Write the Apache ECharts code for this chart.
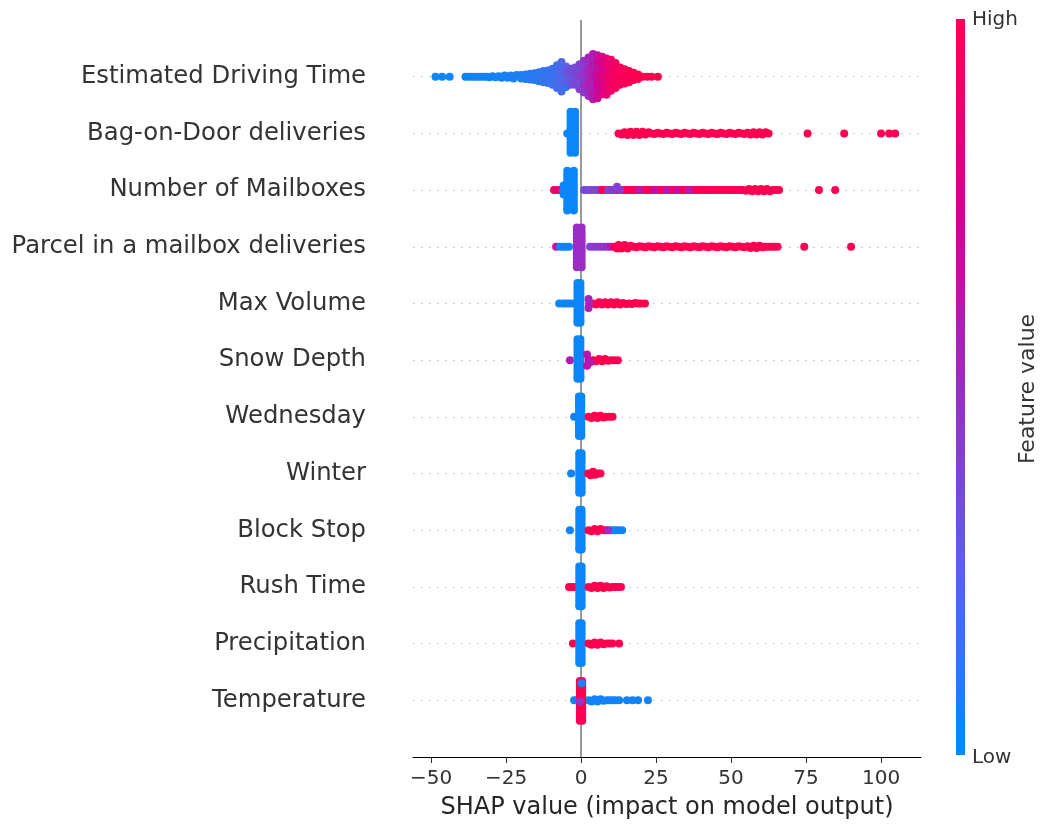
<!DOCTYPE html>
<html lang="en">
<head>
<meta charset="UTF-8">
<script src="https://cdn.jsdelivr.net/npm/echarts@6/dist/echarts.min.js"></script>
<title>SHAP summary</title>
<style>
  html, body { margin: 0; padding: 0; background: #fff; }
  #chart { width: 1046px; height: 825px; }
</style>
</head>
<body>
<div id="chart"></div>
<script>
const features = [
  "Estimated Driving Time", "Bag-on-Door deliveries", "Number of Mailboxes",
  "Parcel in a mailbox deliveries", "Max Volume", "Snow Depth", "Wednesday",
  "Winter", "Block Stop", "Rush Time", "Precipitation", "Temperature"
];
const xTicks = [-50, -25, 0, 25, 50, 75, 100];

// each point: [shap value, spread inside its row, feature value 0..1]
const drivingTime = [
  [-48.5,0,0.02],[-46.3,0,0.03],[-43.8,0,0.02],
  [-38.5,0,0.04],[-37.5,0,0.03],[-36.5,0,0.05],[-35.5,0,0.04],[-34.5,0,0.05],[-33.5,0,0.04],[-32.5,0,0.06],[-31.5,0,0.05],
  [-30.5,0.01,0.05],[-29.5,-0.01,0.06],[-28.5,0.01,0.05],[-27.5,-0.01,0.07],[-26.5,0.02,0.06],[-25.5,-0.02,0.07],
  [-24.5,0.02,0.06],[-23.5,-0.02,0.08],[-22.5,0.03,0.07],[-21.5,-0.03,0.08],
  [-20,-0.03,0.08],[-20,0.03,0.09],[-18.5,-0.04,0.1],[-18.5,0.04,0.09],[-17,-0.05,0.1],[-17,0.05,0.11],
  [-15.5,-0.06,0.11],[-15.5,0,0.1],[-15.5,0.06,0.12],[-14,-0.08,0.12],[-14,0,0.13],[-14,0.08,0.12],
  [-12.5,-0.1,0.13],[-12.5,0,0.14],[-12.5,0.1,0.15],[-11,-0.11,0.15],[-11,0,0.14],[-11,0.11,0.16],
  [-9.5,-0.14,0.16],[-9.5,-0.05,0.15],[-9.5,0.05,0.17],[-9.5,0.14,0.16],
  [-8,-0.2,0.18],[-8,-0.1,0.2],[-8,0,0.17],[-8,0.1,0.19],[-8,0.2,0.18],
  [-6.5,-0.26,0.22],[-6.5,-0.15,0.2],[-6.5,-0.05,0.24],[-6.5,0.05,0.21],[-6.5,0.15,0.23],[-6.5,0.26,0.2],
  [-5,-0.18,0.26],[-5,-0.08,0.3],[-5,0.02,0.25],[-5,0.12,0.28],[-5,0.18,0.12],
  [-3.5,-0.14,0.32],[-3.5,-0.05,0.35],[-3.5,0.05,0.3],[-3.5,0.14,0.34],
  [-2,-0.16,0.36],[-2,-0.06,0.38],[-2,0.04,0.34],[-2,0.14,0.37],
  [-0.5,-0.22,0.4],[-0.5,-0.11,0.38],[-0.5,0,0.42],[-0.5,0.11,0.36],[-0.5,0.22,0.4],
  [1,-0.28,0.46],[1,-0.17,0.42],[1,-0.06,0.48],[1,0.05,0.44],[1,0.16,0.5],[1,0.28,0.45],
  [2.5,-0.34,0.55],[2.5,-0.23,0.5],[2.5,-0.12,0.56],[2.5,0,0.52],[2.5,0.12,0.58],[2.5,0.23,0.54],[2.5,0.34,0.5],
  [4,-0.4,0.6],[4,-0.3,0.56],[4,-0.2,0.62],[4,-0.1,0.58],[4,0,0.64],[4,0.1,0.6],[4,0.2,0.57],[4,0.3,0.63],[4,0.4,0.6],
  [5.5,-0.38,0.66],[5.5,-0.27,0.7],[5.5,-0.16,0.64],[5.5,-0.05,0.72],[5.5,0.06,0.68],[5.5,0.17,0.74],[5.5,0.28,0.66],[5.5,0.38,0.7],
  [7,-0.35,0.76],[7,-0.24,0.8],[7,-0.13,0.74],[7,-0.02,0.82],[7,0.09,0.78],[7,0.2,0.75],[7,0.31,0.8],
  [8.5,-0.32,0.84],[8.5,-0.21,0.86],[8.5,-0.1,0.82],[8.5,0.01,0.88],[8.5,0.12,0.85],[8.5,0.23,0.87],[8.5,0.32,0.83],
  [10,-0.3,0.9],[10,-0.19,0.88],[10,-0.08,0.92],[10,0.03,0.9],[10,0.14,0.93],[10,0.25,0.89],
  [11.5,-0.24,0.93],[11.5,-0.13,0.95],[11.5,-0.02,0.92],[11.5,0.09,0.95],[11.5,0.2,0.94],
  [13,-0.16,0.96],[13,-0.06,0.95],[13,0.04,0.97],[13,0.14,0.96],
  [14.5,-0.13,0.97],[14.5,-0.04,0.96],[14.5,0.05,0.98],[14.5,0.12,0.97],
  [16,-0.1,0.98],[16,0,0.97],[16,0.1,0.98],
  [17.5,-0.07,0.98],[17.5,0.03,0.99],[17.5,0.06,0.98],
  [19,-0.04,0.99],[19,0.04,0.99],[20.5,0,0.99],[22,0,1],[23.5,0,1],[25.6,0,1]
];
const bagOnDoor = [
  [-4.6,0,0.03],
  [-3.5,-0.38,0.02],[-3.5,-0.32,0.03],[-3.5,-0.26,0.02],[-3.5,-0.2,0.04],[-3.5,-0.14,0.03],[-3.5,-0.08,0.02],[-3.5,-0.02,0.03],
  [-3.5,0.04,0.02],[-3.5,0.1,0.03],[-3.5,0.16,0.04],[-3.5,0.22,0.02],[-3.5,0.28,0.03],[-3.5,0.34,0.02],
  [-2,-0.38,0.03],[-2,-0.32,0.02],[-2,-0.26,0.04],[-2,-0.2,0.03],[-2,-0.14,0.02],[-2,-0.08,0.03],[-2,-0.02,0.04],
  [-2,0.04,0.03],[-2,0.1,0.02],[-2,0.16,0.03],[-2,0.22,0.04],[-2,0.28,0.02],[-2,0.34,0.03],
  [12.5,0,1],[13.5,0.02,1],[14.5,-0.02,1],[15.5,0.03,1],[16.5,-0.03,1],[17.5,0.03,1],[18.5,-0.03,1],[19.5,0.03,1],
  [20.5,-0.03,1],[21.5,0.02,1],[22.5,-0.02,1],[23.5,0,1],[24.5,0.01,1],[25.5,-0.01,1],[26.5,0,1],[27.5,0.01,1],
  [28.5,-0.01,1],[29.5,0,1],[30.5,0.01,1],[31.5,-0.01,1],[32.5,0,1],[33.5,0.01,1],[34.5,-0.01,1],[35.5,0,1],
  [36.5,0.01,1],[37.5,-0.01,1],[38.5,0,1],[39.5,0.01,1],[40.5,-0.01,1],[41.5,0,1],[42.5,0.01,1],[43.5,-0.01,1],
  [44.5,0,1],[45.5,0.01,1],[46.5,-0.01,1],[47.5,0,1],[48.5,0.01,1],[49.5,-0.01,1],[50.5,0,1],[51.5,0.01,1],
  [52.5,-0.01,1],[53.5,0,1],[54.5,0.01,1],[55.5,-0.01,1],[56.5,0.02,1],[57.5,-0.02,1],[58.5,0.02,1],[59.5,-0.02,1],
  [60.5,0.02,1],[61.5,-0.02,1],[62.5,0,1],
  [75.5,0,1],[87.7,0,1],[100,0,1],[102.7,0,1],[104.7,0,1]
];
const numberMailboxes = [
  [-9,0,0.95],[-8,0,0.9],[-7,0,0.95],[-6,0,0.05],[-5.8,-0.08,0.04],[-5.8,0.08,0.05],
  [-4.6,-0.34,0.03],[-4.6,-0.28,0.02],[-4.6,-0.22,0.04],[-4.6,-0.16,0.03],[-4.6,-0.1,0.02],[-4.6,-0.04,0.03],[-4.6,0.02,0.04],
  [-4.6,0.08,0.02],[-4.6,0.14,0.03],[-4.6,0.2,0.04],[-4.6,0.26,0.02],[-4.6,0.32,0.03],[-4.6,0.36,0.02],
  [-2.4,-0.34,0.02],[-2.4,-0.28,0.03],[-2.4,-0.22,0.02],[-2.4,-0.16,0.04],[-2.4,-0.1,0.03],[-2.4,-0.04,0.02],[-2.4,0.02,0.03],
  [-2.4,0.08,0.04],[-2.4,0.14,0.02],[-2.4,0.2,0.03],[-2.4,0.26,0.04],[-2.4,0.32,0.02],[-2.4,0.36,0.03],
  [1,0,0.35],[2,0,0.38],[3,0,0.36],[4,0,0.4],[5,0,0.37],[6,0,0.4],
  [7,0,0.95],[8,0,1],[9,0,0.95],[10,0,1],[11,0,0.97],[12,0,1],[13,0,0.95],[14,0,1],[15,0,0.97],[16,0,1],
  [17,0,0.95],[18,0,1],[19,0,0.97],[20,0,1],[21,0,0.95],[22,0,1],[23,0,0.97],[24,0,1],[25,0,0.95],[26,0,1],
  [27,0,0.97],[28,0,1],[29,0,0.95],[30,0,1],[31,0,0.97],[32,0,1],[33,0,0.95],[34,0,1],[35,0,0.97],[36,0,1],
  [37,0,0.95],[38,0,1],[39,0,0.97],[40,0,1],[41,0,0.95],[42,0,1],[43,0,0.97],[44,0,1],[45,0,0.95],[46,0,1],
  [47,0,0.97],[48,0,1],[49,0,0.95],[50,0,1],[51,0,0.97],[52,0,1],[53,0,0.95],[54,0,1],[55,0.01,1],[56,-0.02,1],
  [57,0.02,1],[58,-0.02,1],[59,0.02,1],[60,-0.02,1],[61,0.02,1],[62,-0.02,1],[63,0.02,1],[64,0,1],[65,0,1],[66,0,1],
  [79.3,0,1],[84.7,0,1],
  [9,0,0.4],[10.5,0,0.42],[12,-0.06,0.4],[13,0,0.42],[19.5,0,0.6],[24.5,0,0.65],[28.5,0,0.62],[32,0,0.68],[36,0,0.6]
];
const parcelMailbox = [
  [-8.3,0,0.7],[-7,0,0.05],[-6,0,0.05],[-5,0,0.03],[-4,0,0.05],
  [-1.4,-0.34,0.5],[-1.4,-0.28,0.49],[-1.4,-0.22,0.51],[-1.4,-0.16,0.5],[-1.4,-0.1,0.48],[-1.4,-0.04,0.5],[-1.4,0.02,0.52],
  [-1.4,0.08,0.5],[-1.4,0.14,0.49],[-1.4,0.2,0.51],[-1.4,0.26,0.5],[-1.4,0.32,0.48],[-1.4,0.36,0.5],
  [0.2,-0.34,0.51],[0.2,-0.28,0.5],[0.2,-0.22,0.49],[0.2,-0.16,0.5],[0.2,-0.1,0.52],[0.2,-0.04,0.5],[0.2,0.02,0.48],
  [0.2,0.08,0.5],[0.2,0.14,0.51],[0.2,0.2,0.49],[0.2,0.26,0.5],[0.2,0.32,0.52],[0.2,0.36,0.5],
  [3,0,0.4],[4.2,0,0.45],[5.4,0,0.42],[6.6,0,0.48],[7.8,0,0.44],[9,0,0.5],[10,0,0.58],
  [11,0,0.95],[12,0.03,1],[12.5,-0.03,1],[13.5,0.03,1],[14.5,-0.03,1],[15.5,0.03,1],[16.5,-0.02,1],[17.5,0,1],
  [18.5,0.01,1],[19.5,-0.01,1],[20.5,0,1],[21.5,0.01,1],[22.5,-0.01,1],[23.5,0,1],[24.5,0.01,1],[25.5,-0.01,1],
  [26.5,0,1],[27.5,0.01,1],[28.5,-0.01,1],[29.5,0,1],[30.5,0.01,1],[31.5,-0.01,1],[32.5,0,1],[33.5,0.01,1],
  [34.5,-0.01,1],[35.5,0,1],[36.5,0.01,1],[37.5,-0.01,1],[38.5,0,1],[39.5,0.01,1],[40.5,-0.01,1],[41.5,0,1],
  [42.5,0.01,1],[43.5,-0.01,1],[44.5,0,1],[45.5,0.01,1],[46.5,-0.01,1],[47.5,0,1],[48.5,0.01,1],[49.5,-0.01,1],
  [50.5,0,1],[51.5,0.01,1],[52.5,-0.01,1],[53.5,0,1],[54.5,0.01,1],[55.5,-0.01,1],[56.5,0.02,1],[57.5,-0.02,1],
  [58.5,0.02,1],[59.5,-0.02,1],[60.5,0.01,1],[61.5,0,1],[62.5,0,1],[63.5,0,1],[64.5,0,1],[65.5,0,1],
  [74.4,0,1],[90,0,1]
];
const maxVolume = [
  [-7.3,0,0.05],[-6,0,0.04],[-5,0,0.05],[-4,0,0.04],[-3,0,0.05],
  [-1.2,-0.36,0.03],[-1.2,-0.3,0.02],[-1.2,-0.24,0.04],[-1.2,-0.18,0.03],[-1.2,-0.12,0.02],[-1.2,-0.06,0.03],[-1.2,0,0.04],
  [-1.2,0.06,0.02],[-1.2,0.12,0.03],[-1.2,0.18,0.04],[-1.2,0.24,0.02],[-1.2,0.3,0.03],[-1.2,0.34,0.02],
  [-0.2,-0.36,0.02],[-0.2,-0.3,0.03],[-0.2,-0.24,0.02],[-0.2,-0.18,0.04],[-0.2,-0.12,0.03],[-0.2,-0.06,0.02],[-0.2,0,0.03],
  [-0.2,0.06,0.04],[-0.2,0.12,0.02],[-0.2,0.18,0.03],[-0.2,0.24,0.04],[-0.2,0.3,0.02],[-0.2,0.34,0.03],
  [4,0,0.95],[5,0.02,1],[6,-0.02,1],[7,0.02,1],[8,-0.02,1],[9,0.02,1],[10,-0.02,1],[11,0.02,1],[12,-0.02,1],
  [13,0.02,1],[14,-0.01,1],[15,0.01,1],[16,0,1],[17,0.01,1],[18,-0.01,1],[19,0,1],[20,0,1],[21.3,0,1],
  [2.7,0,0.55],[2.5,-0.08,0.52],[2.5,0.08,0.56]
];
const snowDepth = [
  [-3.7,0,0.6],
  [-1.2,-0.37,0.03],[-1.2,-0.31,0.02],[-1.2,-0.25,0.04],[-1.2,-0.19,0.03],[-1.2,-0.13,0.02],[-1.2,-0.07,0.03],[-1.2,-0.01,0.04],
  [-1.2,0.05,0.02],[-1.2,0.11,0.03],[-1.2,0.17,0.04],[-1.2,0.23,0.02],[-1.2,0.29,0.03],[-1.2,0.33,0.02],
  [-0.2,-0.37,0.02],[-0.2,-0.31,0.03],[-0.2,-0.25,0.02],[-0.2,-0.19,0.04],[-0.2,-0.13,0.03],[-0.2,-0.07,0.02],[-0.2,-0.01,0.03],
  [-0.2,0.05,0.04],[-0.2,0.11,0.02],[-0.2,0.17,0.03],[-0.2,0.23,0.04],[-0.2,0.29,0.02],[-0.2,0.33,0.03],
  [4,0,0.95],[5,0.02,1],[6,-0.02,1],[7,0.02,1],[8,-0.02,1],[9,0.01,1],[10,0,1],[11,0,1],[12.3,0,1],
  [2,-0.1,0.62],[2,0.1,0.66],[2.5,0,0.7],[3,0.04,0.6]
];
const wednesday = [
  [-2.3,0,0.05],
  [-0.7,-0.36,0.03],[-0.7,-0.3,0.02],[-0.7,-0.24,0.04],[-0.7,-0.18,0.03],[-0.7,-0.12,0.02],[-0.7,-0.06,0.03],[-0.7,0,0.04],
  [-0.7,0.06,0.02],[-0.7,0.12,0.03],[-0.7,0.18,0.04],[-0.7,0.24,0.02],[-0.7,0.3,0.03],[-0.7,0.34,0.02],
  [0.1,-0.36,0.02],[0.1,-0.3,0.03],[0.1,-0.24,0.02],[0.1,-0.18,0.04],[0.1,-0.12,0.03],[0.1,-0.06,0.02],[0.1,0,0.03],
  [0.1,0.06,0.04],[0.1,0.12,0.02],[0.1,0.18,0.03],[0.1,0.24,0.04],[0.1,0.3,0.02],[0.1,0.34,0.03],
  [2.5,0,1],[3.5,0.02,1],[4.5,-0.02,1],[5.5,0.02,1],[6.5,-0.02,1],[7.5,0.01,1],[8.5,0,1],[9.5,0,1],[10.5,0,1]
];
const winter = [
  [-3.3,0,0.05],
  [-0.6,-0.36,0.03],[-0.6,-0.3,0.02],[-0.6,-0.24,0.04],[-0.6,-0.18,0.03],[-0.6,-0.12,0.02],[-0.6,-0.06,0.03],[-0.6,0,0.04],
  [-0.6,0.06,0.02],[-0.6,0.12,0.03],[-0.6,0.18,0.04],[-0.6,0.24,0.02],[-0.6,0.3,0.03],[-0.6,0.34,0.02],
  [0.2,-0.36,0.02],[0.2,-0.3,0.03],[0.2,-0.24,0.02],[0.2,-0.18,0.04],[0.2,-0.12,0.03],[0.2,-0.06,0.02],[0.2,0,0.03],
  [0.2,0.06,0.04],[0.2,0.12,0.02],[0.2,0.18,0.03],[0.2,0.24,0.04],[0.2,0.3,0.02],[0.2,0.34,0.03],
  [2.4,0,1],[3.2,0.03,1],[4,-0.03,1],[4.8,0.02,1],[5.6,0,1],[6.5,0,1]
];
const blockStop = [
  [-3.7,0,0.05],
  [-0.6,-0.36,0.03],[-0.6,-0.3,0.02],[-0.6,-0.24,0.04],[-0.6,-0.18,0.03],[-0.6,-0.12,0.02],[-0.6,-0.06,0.03],[-0.6,0,0.04],
  [-0.6,0.06,0.02],[-0.6,0.12,0.03],[-0.6,0.18,0.04],[-0.6,0.24,0.02],[-0.6,0.3,0.03],[-0.6,0.34,0.02],
  [0.2,-0.36,0.02],[0.2,-0.3,0.03],[0.2,-0.24,0.02],[0.2,-0.18,0.04],[0.2,-0.12,0.03],[0.2,-0.06,0.02],[0.2,0,0.03],
  [0.2,0.06,0.04],[0.2,0.12,0.02],[0.2,0.18,0.03],[0.2,0.24,0.04],[0.2,0.3,0.02],[0.2,0.34,0.03],
  [2.5,0,1],[3.5,0.02,1],[4.5,-0.02,1],[5.5,0.02,1],[6.5,-0.02,1],[7.5,0,1],[8.5,0,1],
  [9.5,0,0.05],[10.5,0,0.05],[11.5,0,0.05],[12.5,0,0.05],[13.7,0,0.05],[9,0,0.5]
];
const rushTime = [
  [-4,0,1],[-3,0,1],[-2.2,0,1],
  [-0.6,-0.36,0.03],[-0.6,-0.3,0.02],[-0.6,-0.24,0.04],[-0.6,-0.18,0.03],[-0.6,-0.12,0.02],[-0.6,-0.06,0.03],[-0.6,0,0.04],
  [-0.6,0.06,0.02],[-0.6,0.12,0.03],[-0.6,0.18,0.04],[-0.6,0.24,0.02],[-0.6,0.3,0.03],[-0.6,0.34,0.02],
  [0.2,-0.36,0.02],[0.2,-0.3,0.03],[0.2,-0.24,0.02],[0.2,-0.18,0.04],[0.2,-0.12,0.03],[0.2,-0.06,0.02],[0.2,0,0.03],
  [0.2,0.06,0.04],[0.2,0.12,0.02],[0.2,0.18,0.03],[0.2,0.24,0.04],[0.2,0.3,0.02],[0.2,0.34,0.03],
  [2.5,0,1],[3.5,0.02,1],[4.5,-0.02,1],[5.5,0.02,1],[6.5,-0.02,1],[7.5,0.02,1],[8.5,-0.01,1],[9.5,0.01,1],
  [10.5,0,1],[11.5,0,1],[12.3,0,1],[13.3,0,1]
];
const precipitation = [
  [-2.7,0,1],
  [-0.6,-0.36,0.03],[-0.6,-0.3,0.02],[-0.6,-0.24,0.04],[-0.6,-0.18,0.03],[-0.6,-0.12,0.02],[-0.6,-0.06,0.03],[-0.6,0,0.04],
  [-0.6,0.06,0.02],[-0.6,0.12,0.03],[-0.6,0.18,0.04],[-0.6,0.24,0.02],[-0.6,0.3,0.03],[-0.6,0.34,0.02],
  [0.2,-0.36,0.02],[0.2,-0.3,0.03],[0.2,-0.24,0.02],[0.2,-0.18,0.04],[0.2,-0.12,0.03],[0.2,-0.06,0.02],[0.2,0,0.03],
  [0.2,0.06,0.04],[0.2,0.12,0.02],[0.2,0.18,0.03],[0.2,0.24,0.04],[0.2,0.3,0.02],[0.2,0.34,0.03],
  [2.5,0,1],[3.5,0.02,1],[4.5,-0.02,1],[5.5,0.02,1],[6.5,-0.02,1],[7.5,0.01,1],[8.5,0,1],[9.5,0,1],[10.5,0,1],[12.7,0,1]
];
const temperature = [
  [-2.3,0,0.05],[-1.6,0,0.05],
  [2.5,0,0.05],[3.5,0.02,0.05],[4.5,-0.02,0.05],[5.5,0.02,0.05],[6.5,-0.02,0.05],[7.5,0.01,0.05],[8.5,0,0.05],
  [9.5,0,0.05],[10.5,0,0.05],[11.5,0,0.05],[12.7,0,0.05],[15.3,0,0.05],[17.2,0,0.05],[19,0,0.05],[22.3,0,0.05],
  [-0.4,-0.34,1],[-0.4,-0.28,0.98],[-0.4,-0.22,1],[-0.4,-0.16,0.97],[-0.4,-0.1,1],[-0.4,-0.04,0.98],[-0.4,0.02,1],
  [-0.4,0.08,0.97],[-0.4,0.14,1],[-0.4,0.2,0.98],[-0.4,0.26,1],[-0.4,0.32,0.97],[-0.4,0.36,1],
  [0.4,-0.34,0.98],[0.4,-0.28,1],[0.4,-0.22,0.97],[0.4,-0.16,1],[0.4,-0.1,0.98],[0.4,-0.04,1],[0.4,0.02,0.97],
  [0.4,0.08,1],[0.4,0.14,0.98],[0.4,0.2,1],[0.4,0.26,0.97],[0.4,0.32,1],[0.4,0.36,0.98],
  [0.2,-0.3,0.05],[-0.3,0.02,0.45]
];

const rows = [drivingTime, bagOnDoor, numberMailboxes, parcelMailbox, maxVolume, snowDepth,
  wednesday, winter, blockStop, rushTime, precipitation, temperature];
const rampColors = ['#008bfb', '#5a62e6', '#9b2cc4', '#d6008f', '#ff0051'];

const points = [];
rows.forEach((row, i) => {
  row.forEach(p => points.push([p[0], i + p[1], p[2]]));
});

const font = 'DejaVu Sans';
const chart = echarts.init(document.getElementById('chart'));
chart.setOption({
  animation: false,
  backgroundColor: '#fff',
  textStyle: { fontFamily: font },
  grid: { left: 413, right: 125, top: 20, bottom: 67 },
  xAxis: {
    type: 'value', min: -56, max: 113.3,
    name: 'SHAP value (impact on model output)', nameLocation: 'middle', nameGap: 39,
    nameTextStyle: { fontSize: 24, color: '#262626', fontFamily: font },
    axisLine: { show: true, onZero: false, lineStyle: { color: '#000', width: 1 } },
    axisTick: { show: true, customValues: xTicks, length: 6, lineStyle: { color: '#333' } },
    axisLabel: {
      customValues: xTicks, fontSize: 20, color: '#333', margin: 12, fontFamily: font,
      formatter: v => v < 0 ? '\u2212' + (-v) : String(v)
    },
    splitLine: { show: false }
  },
  yAxis: {
    type: 'value', inverse: true, min: -1, max: 12, interval: 1,
    axisLine: { show: false }, axisTick: { show: false },
    axisLabel: {
      formatter: v => features[v] || '', fontSize: 24.3, color: '#333', margin: 47,
      fontFamily: font, padding: [4, 0, 0, 0]
    },
    splitLine: {
      show: true, showMinLine: false, showMaxLine: false,
      lineStyle: { color: '#cccccc', width: 1, type: [2, 6] }
    }
  },
  visualMap: {
    type: 'continuous', show: false, dimension: 2, min: 0, max: 1, seriesIndex: 0,
    inRange: { color: rampColors }
  },
  series: [{
    type: 'scatter',
    data: points,
    symbolSize: 8,
    z: 3,
    silent: true,
    itemStyle: { opacity: 1 },
    markLine: {
      z: 1, silent: true, symbol: 'none', label: { show: false },
      lineStyle: { color: '#999', width: 2, type: 'solid' },
      data: [{ xAxis: 0 }]
    }
  }],
  graphic: [
    {
      type: 'rect', left: 956, top: 19, silent: true,
      shape: { width: 9, height: 736 },
      style: {
        fill: new echarts.graphic.LinearGradient(0, 1, 0, 0, rampColors.map((c, i) => ({ offset: i / (rampColors.length - 1), color: c })))
      }
    },
    { type: 'text', left: 972, top: 10, style: { text: 'High', font: '20px "DejaVu Sans"', fill: '#333' } },
    { type: 'text', left: 972, top: 748, style: { text: 'Low', font: '20px "DejaVu Sans"', fill: '#333' } },
    {
      type: 'text', x: 1028, y: 389, rotation: Math.PI / 2,
      style: { text: 'Feature value', font: '22px "DejaVu Sans"', fill: '#333', align: 'center', verticalAlign: 'middle' }
    }
  ]
});
</script>
</body>
</html>
